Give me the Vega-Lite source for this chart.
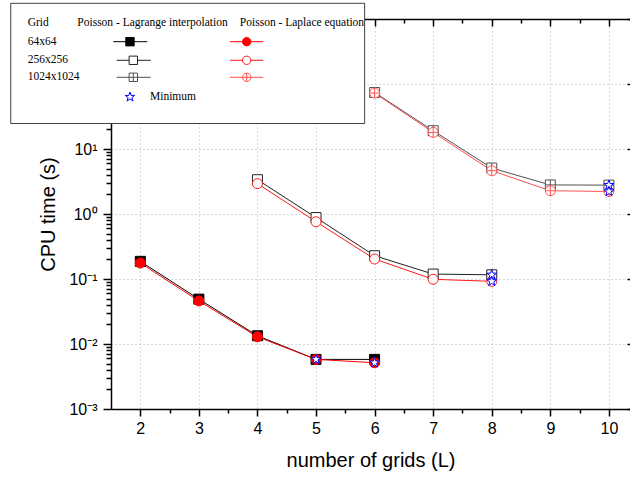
{
  "$schema": "https://vega.github.io/schema/vega-lite/v6.json",
  "width": 519,
  "height": 390,
  "autosize": {"type": "none"},
  "padding": {"left": 111, "top": 19, "right": 0, "bottom": 71},
  "background": "white",
  "config": {"view": {"stroke": null}},
  "datasets": {
    "cpu": [
      {"series": "Lagrange 64x64", "L": 2, "time": 0.187},
      {"series": "Lagrange 64x64", "L": 3, "time": 0.049},
      {"series": "Lagrange 64x64", "L": 4, "time": 0.0134},
      {"series": "Lagrange 64x64", "L": 5, "time": 0.0058},
      {"series": "Lagrange 64x64", "L": 6, "time": 0.0058},
      {"series": "Lagrange 256x256", "L": 4, "time": 3.37},
      {"series": "Lagrange 256x256", "L": 5, "time": 0.88},
      {"series": "Lagrange 256x256", "L": 6, "time": 0.228},
      {"series": "Lagrange 256x256", "L": 7, "time": 0.119},
      {"series": "Lagrange 256x256", "L": 8, "time": 0.116},
      {"series": "Lagrange 1024x1024", "L": 6, "time": 74},
      {"series": "Lagrange 1024x1024", "L": 7, "time": 19.1},
      {"series": "Lagrange 1024x1024", "L": 8, "time": 5.1},
      {"series": "Lagrange 1024x1024", "L": 9, "time": 2.8},
      {"series": "Lagrange 1024x1024", "L": 10, "time": 2.78},
      {"series": "Laplace 64x64", "L": 2, "time": 0.176},
      {"series": "Laplace 64x64", "L": 3, "time": 0.046},
      {"series": "Laplace 64x64", "L": 4, "time": 0.0129},
      {"series": "Laplace 64x64", "L": 5, "time": 0.0058},
      {"series": "Laplace 64x64", "L": 6, "time": 0.00515},
      {"series": "Laplace 256x256", "L": 4, "time": 2.93},
      {"series": "Laplace 256x256", "L": 5, "time": 0.76},
      {"series": "Laplace 256x256", "L": 6, "time": 0.203},
      {"series": "Laplace 256x256", "L": 7, "time": 0.099},
      {"series": "Laplace 256x256", "L": 8, "time": 0.092},
      {"series": "Laplace 1024x1024", "L": 6, "time": 72.5},
      {"series": "Laplace 1024x1024", "L": 7, "time": 18.0},
      {"series": "Laplace 1024x1024", "L": 8, "time": 4.64},
      {"series": "Laplace 1024x1024", "L": 9, "time": 2.28},
      {"series": "Laplace 1024x1024", "L": 10, "time": 2.22}
    ],
    "minimum": [
      {"L": 5, "time": 0.0058},
      {"L": 6, "time": 0.00515},
      {"L": 8, "time": 0.116},
      {"L": 8, "time": 0.092},
      {"L": 10, "time": 2.78},
      {"L": 10, "time": 2.22}
    ],
    "legend_box": [
      {"x1": -0.2116, "x2": 5.83, "y1": 24.68, "y2": 1744}
    ],
    "legend_symbols": [
      {"series": "Lagrange 64x64", "x1": 1.539, "x2": 2.12, "xm": 1.824, "y": 447.5},
      {"series": "Lagrange 256x256", "x1": 1.597, "x2": 2.178, "xm": 1.881, "y": 231.5},
      {"series": "Lagrange 1024x1024", "x1": 1.597, "x2": 2.178, "xm": 1.881, "y": 126.8},
      {"series": "Laplace 64x64", "x1": 3.531, "x2": 4.099, "xm": 3.816, "y": 447.5},
      {"series": "Laplace 256x256", "x1": 3.531, "x2": 4.099, "xm": 3.816, "y": 231.5},
      {"series": "Laplace 1024x1024", "x1": 3.531, "x2": 4.099, "xm": 3.816, "y": 126.8}
    ],
    "legend_text": [
      {"label": "Grid", "x": 0.0785, "y": 858.8},
      {"label": "Poisson - Lagrange interpolation", "x": 0.925, "y": 858.8},
      {"label": "Poisson - Laplace equation", "x": 3.70, "y": 858.8},
      {"label": "64x64", "x": 0.0785, "y": 447.5},
      {"label": "256x256", "x": 0.0785, "y": 231.5},
      {"label": "1024x1024", "x": 0.0785, "y": 126.8},
      {"label": "Minimum", "x": 2.1655, "y": 63.1}
    ],
    "legend_star": [
      {"x": 1.824, "y": 63.1}
    ]
  },
  "layer": [
    {
      "data": {"name": "cpu"},
      "mark": {"type": "line", "strokeWidth": 1},
      "encoding": {
        "x": {
          "field": "L", "type": "quantitative",
          "scale": {"domain": [1.5, 10.36], "nice": false, "zero": false},
          "axis": {
            "orient": "bottom",
            "values": [2, 2.5, 3, 3.5, 4, 4.5, 5, 5.5, 6, 6.5, 7, 7.5, 8, 8.5, 9, 9.5, 10],
            "labelExpr": "datum.value % 1 === 0 ? '' + datum.value : ''",
            "labelFont": "Liberation Sans", "labelFontSize": 16, "labelColor": "#000000", "labelPadding": 4,
            "labelFlush": false, "labelOverlap": false,
            "tickSize": {"condition": {"test": "datum.value % 1 === 0", "value": 7}, "value": 4},
            "tickColor": "#000000", "tickWidth": 1.5,
            "domainColor": "#000000", "domainWidth": 1.5,
            "grid": true, "gridColor": "#b4b4b4", "gridDash": [1, 3], "gridWidth": 1,
            "gridOpacity": {"condition": {"test": "datum.value % 1 === 0", "value": 1}, "value": 0},
            "title": "number of grids (L)", "titleFont": "Liberation Sans", "titleFontSize": 20,
            "titleFontWeight": "normal", "titleColor": "#000000", "titlePadding": 14
          }
        },
        "y": {
          "field": "time", "type": "quantitative",
          "scale": {"type": "log", "domain": [0.001, 1000], "nice": false},
          "axis": {
            "orient": "left",
            "values": [0.001, 0.002, 0.003, 0.004, 0.005, 0.006, 0.007, 0.008, 0.009,
                       0.01, 0.02, 0.03, 0.04, 0.05, 0.06, 0.07, 0.08, 0.09,
                       0.1, 0.2, 0.3, 0.4, 0.5, 0.6, 0.7, 0.8, 0.9,
                       1, 2, 3, 4, 5, 6, 7, 8, 9,
                       10, 20, 30, 40, 50, 60, 70, 80, 90,
                       100, 200, 300, 400, 500, 600, 700, 800, 900, 1000],
            "labelExpr": "abs(log(datum.value)/LN10 - round(log(datum.value)/LN10)) < 0.001 && datum.value < 50 ? ['10⁻³','10⁻²','10⁻¹','10⁰','10¹'][round(log(datum.value)/LN10) + 3] : ''",
            "labelFont": "Liberation Sans", "labelFontSize": 16, "labelColor": "#000000", "labelPadding": 6,
            "labelFlush": false, "labelOverlap": false,
            "tickSize": {"condition": {"test": "abs(log(datum.value)/LN10 - round(log(datum.value)/LN10)) < 0.001", "value": 8}, "value": 5},
            "tickColor": "#000000", "tickWidth": 1.5,
            "domainColor": "#000000", "domainWidth": 1.5,
            "grid": true, "gridColor": "#b4b4b4", "gridDash": [1, 3], "gridWidth": 1,
            "gridOpacity": {"condition": {"test": "abs(log(datum.value)/LN10 - round(log(datum.value)/LN10)) < 0.001", "value": 1}, "value": 0},
            "title": "CPU time (s)", "titleFont": "Liberation Sans", "titleFontSize": 20,
            "titleFontWeight": "normal", "titleColor": "#000000", "titlePadding": 10
          }
        },
        "stroke": {
          "field": "series", "type": "nominal", "legend": null,
          "scale": {
            "domain": ["Lagrange 64x64", "Lagrange 256x256", "Lagrange 1024x1024", "Laplace 64x64", "Laplace 256x256", "Laplace 1024x1024"],
            "range": ["#000000", "#222222", "#505050", "#ff0000", "#ff1a1a", "#ff5050"]
          }
        },
        "order": {"field": "L"}
      }
    },
    {
      "data": {"name": "cpu"},
      "mark": {"type": "point", "opacity": 0},
      "encoding": {
        "x": {
          "field": "L", "type": "quantitative",
          "axis": {
            "orient": "top",
            "values": [2, 2.5, 3, 3.5, 4, 4.5, 5, 5.5, 6, 6.5, 7, 7.5, 8, 8.5, 9, 9.5, 10],
            "labels": false, "grid": false, "title": null,
            "tickSize": {"condition": {"test": "datum.value % 1 === 0", "value": -7}, "value": -4},
            "tickColor": "#000000", "tickWidth": 1.5,
            "domainColor": "#000000", "domainWidth": 1.5
          }
        },
        "y": {
          "field": "time", "type": "quantitative",
          "axis": {
            "orient": "right",
            "values": [0.001, 0.01, 0.1, 1, 10, 100, 1000],
            "labels": false, "grid": false, "title": null, "domain": false,
            "tickSize": -3, "tickColor": "#000000", "tickWidth": 1.5
          }
        }
      }
    },
    {
      "data": {"name": "cpu"},
      "mark": {"type": "point", "size": 100, "strokeWidth": 1, "opacity": 1, "fillOpacity": 1},
      "encoding": {
        "x": {"field": "L", "type": "quantitative", "axis": null},
        "y": {"field": "time", "type": "quantitative", "axis": null},
        "stroke": {"field": "series", "type": "nominal", "legend": null},
        "fill": {
          "field": "series", "type": "nominal", "legend": null,
          "scale": {
            "domain": ["Lagrange 64x64", "Lagrange 256x256", "Lagrange 1024x1024", "Laplace 64x64", "Laplace 256x256", "Laplace 1024x1024"],
            "range": ["#000000", "#ffffff", "#ffffff", "#ff0000", "#ffffff", "#ffffff"]
          }
        },
        "shape": {
          "field": "series", "type": "nominal", "legend": null,
          "scale": {
            "domain": ["Lagrange 64x64", "Lagrange 256x256", "Lagrange 1024x1024", "Laplace 64x64", "Laplace 256x256", "Laplace 1024x1024"],
            "range": ["square", "square", "M-1,-1H1V1H-1Z M0,-1V1 M-1,0H1", "circle", "circle", "M-1,0A1,1,0,1,0,1,0A1,1,0,1,0,-1,0Z M0,-1V1 M-1,0H1"]
          }
        }
      }
    },
    {
      "data": {"name": "minimum"},
      "mark": {"type": "point", "shape": "M0,-1L0.235,-0.324L0.951,-0.309L0.38,0.124L0.588,0.809L0,0.4L-0.588,0.809L-0.38,0.124L-0.951,-0.309L-0.235,-0.324Z", "size": 110, "fill": "#ffffff", "fillOpacity": 1, "stroke": "#0000ff", "strokeWidth": 1, "opacity": 1},
      "encoding": {
        "x": {"field": "L", "type": "quantitative", "axis": null},
        "y": {"field": "time", "type": "quantitative", "axis": null}
      }
    },
    {
      "data": {"name": "legend_box"},
      "mark": {"type": "rect", "fill": "#ffffff", "stroke": "#404040", "strokeWidth": 1},
      "encoding": {
        "x": {"field": "x1", "type": "quantitative", "axis": null},
        "x2": {"field": "x2"},
        "y": {"field": "y1", "type": "quantitative", "axis": null},
        "y2": {"field": "y2"}
      }
    },
    {
      "data": {"name": "legend_symbols"},
      "mark": {"type": "rule", "strokeWidth": 1},
      "encoding": {
        "x": {"field": "x1", "type": "quantitative", "axis": null},
        "x2": {"field": "x2"},
        "y": {"field": "y", "type": "quantitative", "axis": null},
        "stroke": {"field": "series", "type": "nominal", "legend": null}
      }
    },
    {
      "data": {"name": "legend_symbols"},
      "mark": {"type": "point", "size": 70, "strokeWidth": 1, "opacity": 1, "fillOpacity": 1},
      "encoding": {
        "x": {"field": "xm", "type": "quantitative", "axis": null},
        "y": {"field": "y", "type": "quantitative", "axis": null},
        "stroke": {"field": "series", "type": "nominal", "legend": null},
        "fill": {"field": "series", "type": "nominal", "legend": null},
        "shape": {"field": "series", "type": "nominal", "legend": null}
      }
    },
    {
      "data": {"name": "legend_star"},
      "mark": {"type": "point", "shape": "M0,-1L0.235,-0.324L0.951,-0.309L0.38,0.124L0.588,0.809L0,0.4L-0.588,0.809L-0.38,0.124L-0.951,-0.309L-0.235,-0.324Z", "size": 100, "fill": "#ffffff", "fillOpacity": 1, "stroke": "#0000ff", "strokeWidth": 1, "opacity": 1},
      "encoding": {
        "x": {"field": "x", "type": "quantitative", "axis": null},
        "y": {"field": "y", "type": "quantitative", "axis": null}
      }
    },
    {
      "data": {"name": "legend_text"},
      "mark": {"type": "text", "align": "left", "baseline": "middle", "font": "Liberation Serif", "fontSize": 11.5, "color": "#000000"},
      "encoding": {
        "x": {"field": "x", "type": "quantitative", "axis": null},
        "y": {"field": "y", "type": "quantitative", "axis": null},
        "text": {"field": "label"}
      }
    }
  ],
  "resolve": {"axis": {"x": "independent", "y": "independent"}}
}
